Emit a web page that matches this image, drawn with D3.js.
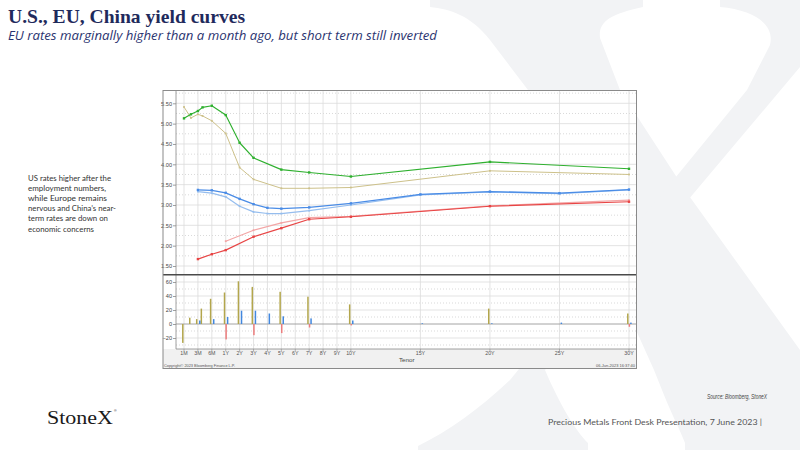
<!DOCTYPE html>
<html>
<head>
<meta charset="utf-8">
<script src="https://cdn.jsdelivr.net/npm/d3@7"></script>
<style>
  html, body { margin: 0; padding: 0; background: #ffffff; }
  svg { display: block; }
</style>
</head>
<body>
<svg id="chart" width="800" height="450"></svg>
<script>
// ---------------- DATA ----------------
const tickLabels = ["1M","3M","6M","1Y","2Y","3Y","4Y","5Y","6Y","7Y","8Y","9Y","10Y","15Y","20Y","25Y","30Y"];
const tenorYears = {"1M":1/12,"2M":2/12,"3M":0.25,"4M":4/12,"6M":0.5,"1Y":1,"2Y":2,"3Y":3,"4Y":4,"5Y":5,"6Y":6,"7Y":7,"8Y":8,"9Y":9,"10Y":10,"15Y":15,"20Y":20,"25Y":25,"30Y":30};

const usTenors    = ["1M","2M","3M","4M","6M","1Y","2Y","3Y","5Y","7Y","10Y","20Y","30Y"];
const usNow       = [5.13,5.23,5.31,5.40,5.44,5.21,4.53,4.16,3.87,3.80,3.70,4.06,3.89];
const usMonthAgo  = [5.41,5.14,5.23,5.19,5.07,4.76,3.92,3.63,3.41,3.41,3.43,3.84,3.75];
const usChange    = [-27,9,7,22,36,45,61,53,46,39,28,22,15];

const euTenors    = ["3M","6M","1Y","2Y","3Y","4Y","5Y","7Y","10Y","15Y","20Y","25Y","30Y"];
const euNow       = [3.37,3.36,3.30,3.15,3.02,2.93,2.91,2.94,3.04,3.26,3.33,3.29,3.38];
const euMonthAgo  = [3.33,3.29,3.20,2.97,2.83,2.79,2.79,2.86,3.00,3.25,3.32,3.28,3.37];
const euChange    = [5,7,10,19,19,15,11,8,5,1,1,2,2];

const cnTenors     = ["3M","6M","1Y","3Y","5Y","7Y","10Y","20Y","30Y"];
const cnNow        = [1.67,1.79,1.89,2.22,2.43,2.65,2.71,2.97,3.08];
const cnPrevTenors = ["1Y","3Y","5Y","7Y","10Y","20Y","30Y"];
const cnMonthAgo   = [2.11,2.38,2.56,2.69,2.72,2.98,3.12];
const cnChgTenors  = ["1Y","3Y","5Y","7Y","10Y","30Y"];
const cnChange     = [-22,-16,-13,-5,-2,-4];

const yTicksTop = [1.5,2.0,2.5,3.0,3.5,4.0,4.5,5.0,5.5];
const yTicksBottom = [-20,0,20,40,60];

const noteLines = ["US rates higher after the","employment numbers,","while Europe remains","nervous and China\u2019s near-","term rates are down on","economic concerns"];

// ---------------- SETUP ----------------
const svg = d3.select("#chart");
const navy = "#1f2a5c";

// watermark X
const wm = svg.append("g").attr("fill", "#f2f3f5");
wm.append("path").attr("d",
  "M430,0 L643,0 L643,7 C610,14 598,22 600,38 L620,90 L687,193 L800,350 L800,450 L685,450 L685,443 C680,430 672,415 664,395 L654,370 L528,90 L490,40 C470,15 450,9 430,7 Z");
wm.append("path").attr("d",
  "M720,0 L800,0 L800,67 L545,370 C560,405 575,430 588,443 L588,450 L418,450 L418,446 C450,430 478,410 510,380 L747,90 L770,45 C775,25 755,10 720,7 Z");

// Title & subtitle
svg.append("text").attr("x", 8).attr("y", 22.5)
  .attr("font-family", "Liberation Serif, serif").attr("font-weight", "bold")
  .attr("font-size", 19).attr("fill", navy)
  .attr("textLength", 237).attr("lengthAdjust", "spacingAndGlyphs")
  .text("U.S., EU, China yield curves");
svg.append("text").attr("x", 8).attr("y", 40)
  .attr("font-family", "Open Sans, sans-serif").attr("font-style", "italic")
  .attr("font-size", 12).attr("fill", "#2b3470")
  .attr("textLength", 429).attr("lengthAdjust", "spacingAndGlyphs")
  .text("EU rates marginally higher than a month ago, but short term still inverted");

// left note
const noteWidths = [83,78,79,88,80,66];
svg.append("g").selectAll("text").data(noteLines).join("text")
  .attr("x", 28).attr("y", (d,i) => 181 + i*10.1)
  .attr("font-family", "Lato, sans-serif").attr("font-size", 8.4).attr("fill", "#333")
  .attr("textLength", (d,i) => noteWidths[i]).attr("lengthAdjust", "spacingAndGlyphs")
  .text(d => d);

// footer
svg.append("text").attr("x", 767).attr("y", 399).attr("text-anchor", "end")
  .attr("font-family", "Liberation Sans, sans-serif").attr("font-style", "italic")
  .attr("font-size", 6.4).attr("fill", "#444")
  .attr("textLength", 60).attr("lengthAdjust", "spacingAndGlyphs")
  .text("Source:  Bloomberg,  StoneX");
svg.append("text").attr("x", 548).attr("y", 425)
  .attr("font-family", "Lato, sans-serif").attr("font-size", 8).attr("fill", "#555")
  .attr("textLength", 214).attr("lengthAdjust", "spacingAndGlyphs")
  .text("Precious Metals Front Desk Presentation, 7 June 2023 |");
svg.append("text").attr("x", 47).attr("y", 424)
  .attr("font-family", "Liberation Serif, serif").attr("font-size", 19).attr("fill", "#1a1a1a")
  .attr("textLength", 66).attr("lengthAdjust", "spacingAndGlyphs")
  .text("StoneX");
svg.append("text").attr("x", 114).attr("y", 412)
  .attr("font-family", "Liberation Sans, sans-serif").attr("font-size", 3.5).attr("fill", "#1a1a1a")
  .text("\u00AE");

// ---------------- CHART FRAME ----------------
const F = {left: 163, right: 636.5, top: 90.5, bottom: 368.5};
const P = {left: 176, right: 636, topTop: 91, topBottom: 274, botTop: 276, botBottom: 349};

svg.append("rect").attr("x", F.left).attr("y", F.top)
  .attr("width", F.right - F.left).attr("height", F.bottom - F.top)
  .attr("fill", "#ffffff");
svg.append("rect").attr("x", F.left).attr("y", P.botBottom)
  .attr("width", F.right - F.left).attr("height", F.bottom - P.botBottom)
  .attr("fill", "#f1f1f1");

// scales
const xIdx = d3.scaleLinear()
  .domain([1/12,0.25,0.5,1,2,3,4,5,6,7,8,9,10,30])
  .range([0,1,2,3,4,5,6,7,8,9,10,11,12,32]);
const xPix = d3.scaleLinear().domain([0,32]).range([184, 629]);
const X = t => xPix(xIdx(tenorYears[t]));

const yTop = d3.scaleLinear().domain([1.5, 5.5]).range([266, 103.3]);
const yBot = d3.scaleLinear().domain([0, 60]).range([324, 282]);

// grids top
const gTop = svg.append("g");
const minorTop = d3.range(1.25, 5.8, 0.5);
gTop.selectAll("line.minor").data(minorTop.filter(v => yTop(v) > P.topTop && yTop(v) < P.topBottom)).join("line")
  .attr("x1", P.left).attr("x2", P.right).attr("y1", d => yTop(d)).attr("y2", d => yTop(d))
  .attr("stroke", "#c8c8c8").attr("stroke-width", 0.7).attr("stroke-dasharray", "1,2");
gTop.selectAll("line.major").data(yTicksTop).join("line")
  .attr("x1", P.left).attr("x2", P.right).attr("y1", d => yTop(d)).attr("y2", d => yTop(d))
  .attr("stroke", "#dcdcdc").attr("stroke-width", 0.8);
gTop.selectAll("line.v").data(tickLabels).join("line")
  .attr("x1", d => X(d)).attr("x2", d => X(d)).attr("y1", P.topTop).attr("y2", P.topBottom)
  .attr("stroke", "#dcdcdc").attr("stroke-width", 0.8);

// grids bottom
const gBot = svg.append("g");
gBot.selectAll("line.minor").data([-30,-10,10,30,50,70].filter(v => yBot(v) > P.botTop && yBot(v) < P.botBottom)).join("line")
  .attr("x1", P.left).attr("x2", P.right).attr("y1", d => yBot(d)).attr("y2", d => yBot(d))
  .attr("stroke", "#c8c8c8").attr("stroke-width", 0.7).attr("stroke-dasharray", "1,2");
gBot.selectAll("line.major").data(yTicksBottom.filter(v => v !== 0)).join("line")
  .attr("x1", P.left).attr("x2", P.right).attr("y1", d => yBot(d)).attr("y2", d => yBot(d))
  .attr("stroke", "#dcdcdc").attr("stroke-width", 0.8);
gBot.selectAll("line.v").data(tickLabels).join("line")
  .attr("x1", d => X(d)).attr("x2", d => X(d)).attr("y1", P.botTop).attr("y2", P.botBottom)
  .attr("stroke", "#dcdcdc").attr("stroke-width", 0.8);
gBot.append("line").attr("x1", P.left).attr("x2", P.right)
  .attr("y1", yBot(0)).attr("y2", yBot(0)).attr("stroke", "#9a9a9a").attr("stroke-width", 0.9);

// axes
const axisFont = "Liberation Sans, sans-serif";
const axL = svg.append("g").attr("transform", `translate(${P.left},0)`)
  .call(d3.axisLeft(yTop).tickValues(yTicksTop).tickFormat(d3.format(".2f")).tickSize(3).tickPadding(1));
const axL2 = svg.append("g").attr("transform", `translate(${P.left},0)`)
  .call(d3.axisLeft(yBot).tickValues(yTicksBottom).tickFormat(d3.format("d")).tickSize(3).tickPadding(1));
[axL, axL2].forEach(a => {
  a.select(".domain").remove();
  a.selectAll("line").attr("stroke", "#777").attr("stroke-width", 0.7);
  a.selectAll("text").attr("font-family", axisFont).attr("font-size", 5.6).attr("fill", "#444");
});
svg.append("line").attr("x1", P.left).attr("x2", P.left).attr("y1", P.topTop).attr("y2", P.botBottom)
  .attr("stroke", "#888").attr("stroke-width", 0.8);

const xTicks = svg.append("g");
xTicks.selectAll("line").data(tickLabels).join("line")
  .attr("x1", d => X(d)).attr("x2", d => X(d)).attr("y1", P.botBottom).attr("y2", P.botBottom + 2)
  .attr("stroke", "#888").attr("stroke-width", 0.6);
xTicks.selectAll("text").data(tickLabels).join("text")
  .attr("x", d => X(d)).attr("y", 354.5).attr("text-anchor", "middle")
  .attr("font-family", axisFont).attr("font-size", 5.3).attr("fill", "#555")
  .text(d => d);
svg.append("line").attr("x1", P.left).attr("x2", P.right).attr("y1", P.botBottom).attr("y2", P.botBottom)
  .attr("stroke", "#888").attr("stroke-width", 0.8);
svg.append("text").attr("x", 399).attr("y", 361.5)
  .attr("font-family", axisFont).attr("font-size", 6.2).attr("fill", "#444").text("Tenor");
svg.append("text").attr("x", 164).attr("y", 367.3)
  .attr("font-family", axisFont).attr("font-size", 4.2).attr("fill", "#555")
  .attr("textLength", 71).attr("lengthAdjust", "spacingAndGlyphs")
  .text("Copyright\u00A9 2023 Bloomberg Finance L.P.");
svg.append("text").attr("x", 635).attr("y", 367.3).attr("text-anchor", "end")
  .attr("font-family", axisFont).attr("font-size", 4.2).attr("fill", "#555")
  .attr("textLength", 39).attr("lengthAdjust", "spacingAndGlyphs")
  .text("06-Jun-2023 16:37:40");

// divider between panels
svg.append("line").attr("x1", F.left).attr("x2", F.right).attr("y1", 274.8).attr("y2", 274.8)
  .attr("stroke", "#4a4a4a").attr("stroke-width", 1.4);

// frame border
svg.append("rect").attr("x", F.left).attr("y", F.top)
  .attr("width", F.right - F.left).attr("height", F.bottom - F.top)
  .attr("fill", "none").attr("stroke", "#8a8a8a").attr("stroke-width", 1);

// ---------------- BARS ----------------
const bars = svg.append("g");
function drawBars(tenors, vals, dx, color) {
  bars.append("g").selectAll("rect").data(tenors.map((t,i) => ({t, v: vals[i]}))).join("rect")
    .attr("x", d => X(d.t) + dx - 0.75).attr("width", 1.5)
    .attr("y", d => Math.min(yBot(d.v), yBot(0)))
    .attr("height", d => Math.abs(yBot(d.v) - yBot(0)))
    .attr("fill", color);
}
drawBars(usTenors, usChange, -1.2, "#b3a64c");
drawBars(cnChgTenors, cnChange, 0.4, "#ec7d7d");
drawBars(euTenors, euChange, 1.9, "#4287de");

// ---------------- LINES ----------------
const lines = svg.append("g");
function drawSeries(tenors, vals, color, width, mk) {
  const pts = tenors.map((t,i) => [X(t), yTop(vals[i])]);
  lines.append("path").datum(pts)
    .attr("d", d3.line())
    .attr("fill", "none").attr("stroke", color).attr("stroke-width", width)
    .attr("stroke-linejoin", "round");
  lines.append("g").selectAll("rect").data(pts).join("rect")
    .attr("x", d => d[0] - mk/2).attr("y", d => d[1] - mk/2)
    .attr("width", mk).attr("height", mk).attr("fill", color);
}
drawSeries(euTenors, euMonthAgo, "#95bdee", 1.2, 1.8);
drawSeries(cnPrevTenors, cnMonthAgo, "#f3a6a6", 1.2, 1.8);
drawSeries(usTenors, usMonthAgo, "#cdc18a", 1.0, 1.8);
drawSeries(euTenors, euNow, "#4a8ce6", 1.3, 2.4);
drawSeries(cnTenors, cnNow, "#e84545", 1.15, 2.4);
drawSeries(usTenors, usNow, "#2fb02f", 1.15, 2.4);
</script>
</body>
</html>
